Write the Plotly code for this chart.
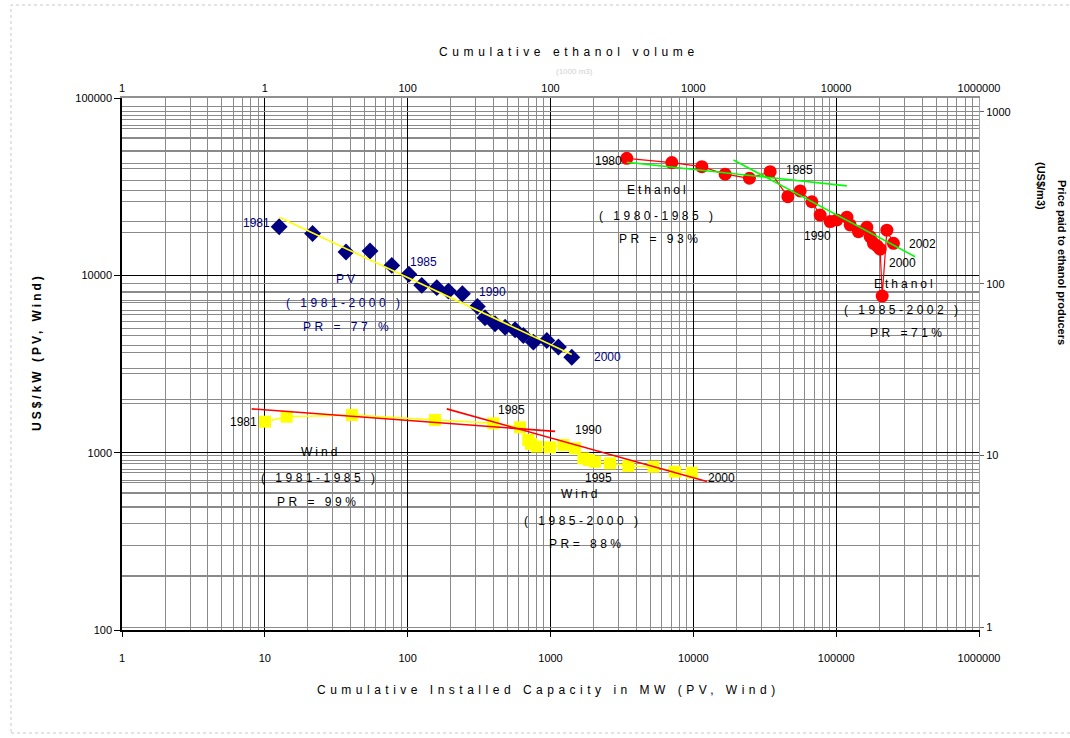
import math
import plotly.graph_objects as go

# ---------------- data ----------------
pv_years = list(range(1981, 2001))
pv_capacity_mw = [12.6, 21.6, 37, 54.5, 77.4, 102, 125.5, 160, 193, 241.6,
                  307.6, 348, 409, 481, 565, 646, 759, 942, 1136, 1409]
pv_price_kw = [18800, 17200, 13550, 13720, 11380, 10140, 8780, 8520, 8150, 7880,
               6680, 5770, 5330, 5100, 4930, 4580, 4200, 4290, 3940, 3450]
pv_fit_x = [12.6, 1409]
pv_fit_y = [21240, 3580]

wind_capacity_mw = [10.03, 14.22, 40.6, 155.4, 397.8, 611.8, 699.4, 730.3, 800.6, 992,
                    1229, 1485, 1698, 1860, 2049, 2610, 3506, 5245, 7440, 9743]
wind_price_kw = [1495, 1595, 1631, 1529, 1464, 1390, 1179, 1119, 1081, 1072,
                 1105, 1058, 929, 909, 889, 871, 841, 833, 781, 771]
wind_fit1_x = [8.09, 1077]
wind_fit1_y = [1766, 1319]
wind_fit2_x = [187.8, 12440]
wind_fit2_y = [1766, 688]

eth_years = list(range(1980, 2003))
eth_volume = [342, 707, 1147, 1670, 2472, 3451, 4590, 5597, 6757, 7727, 9080, 10110,
              11890, 12530, 14320, 16400, 17300, 18250, 19360, 20320, 21000, 22650, 25180]
eth_price_m3 = [537, 507, 480, 434, 411, 449, 321, 347, 300, 251, 230, 235,
                244, 220, 201, 213, 188, 172, 166, 159, 84.8, 205, 172]
eth_fit1_x = [342, 11890]
eth_fit1_y = [509, 371]
eth_fit2_x = [1910, 35730]
eth_fit2_y = [525, 143.7]

bottom_ticks = [1, 10, 100, 1000, 10000, 100000, 1000000]
bottom_ticktext = ["1", "10", "100", "1000", "10000", "100000", "1000000"]
top_ticks = [0.1, 1, 10, 100, 1000, 10000, 100000]
top_ticktext = ["1", "1", "100", "100", "1000", "10000", "1000000"]
left_ticks = [100, 1000, 10000, 100000]
left_ticktext = ["100", "1000", "10000", "100000"]
right_ticks = [1, 10, 100, 1000]
right_ticktext = ["1", "10", "100", "1000"]

# ---------------- figure ----------------
W, H = 1070, 738
ML, MR, MT, MB = 122, 91, 98, 108
PW, PH = W - ML - MR, H - MT - MB

FONT = "Liberation Sans, Arial, sans-serif"
NAVY = "#000080"
GRID = "#8a8a8a"


def minor_vals(lo_exp, hi_exp):
    return [m * 10 ** e for e in range(lo_exp, hi_exp) for m in range(2, 10)]


def P(px, py):
    return (px - ML) / PW, (H - MB - py) / PH


fig = go.Figure()

# PV
fig.add_trace(go.Scatter(x=pv_capacity_mw, y=pv_price_kw, mode="markers",
                         marker=dict(symbol="diamond", size=13, color=NAVY),
                         name="PV", showlegend=False))
fig.add_trace(go.Scatter(x=pv_fit_x, y=pv_fit_y, mode="lines",
                         line=dict(color="#ffff00", width=1.6), showlegend=False))
# Wind
fig.add_trace(go.Scatter(x=wind_capacity_mw, y=wind_price_kw, mode="lines+markers",
                         line=dict(color="#ffff00", width=1.5),
                         marker=dict(symbol="square", size=12, color="#ffff00"),
                         showlegend=False))
fig.add_trace(go.Scatter(x=wind_fit1_x, y=wind_fit1_y, mode="lines",
                         line=dict(color="#ff0000", width=1.6), showlegend=False))
fig.add_trace(go.Scatter(x=wind_fit2_x, y=wind_fit2_y, mode="lines",
                         line=dict(color="#ff0000", width=1.6), showlegend=False))
# Ethanol (top / right axes)
fig.add_trace(go.Scatter(x=eth_volume, y=eth_price_m3, mode="lines+markers",
                         xaxis="x2", yaxis="y2",
                         line=dict(color="#ff0000", width=1.2),
                         marker=dict(symbol="circle", size=13, color="#ff0000"),
                         showlegend=False))
fig.add_trace(go.Scatter(x=eth_fit1_x, y=eth_fit1_y, mode="lines", xaxis="x2", yaxis="y2",
                         line=dict(color="#00ff00", width=1.6), showlegend=False))
fig.add_trace(go.Scatter(x=eth_fit2_x, y=eth_fit2_y, mode="lines", xaxis="x2", yaxis="y2",
                         line=dict(color="#00ff00", width=1.6), showlegend=False))

ann = []


def pt_label(text, x, y, xshift=0, yshift=0, xanchor="center", color="black", xref="x", yref="y"):
    # log axes: annotation coordinates are given in log10 units
    ann.append(dict(text=text, x=math.log10(x), y=math.log10(y), xref=xref, yref=yref,
                    showarrow=False, xanchor=xanchor, yanchor="middle",
                    xshift=xshift, yshift=yshift,
                    font=dict(family=FONT, size=12, color=color)))


# year labels attached to data points
pt_label("1981", pv_capacity_mw[0], pv_price_kw[0], -7, 4, "right", NAVY)
pt_label("1985", pv_capacity_mw[5], pv_price_kw[5], -1, 12, "left", NAVY)
pt_label("1990", pv_capacity_mw[9], pv_price_kw[9], 15, 2, "left", NAVY)
pt_label("2000", pv_capacity_mw[19], pv_price_kw[19], 20, 0, "left", NAVY)

pt_label("1981", wind_capacity_mw[0], wind_price_kw[0], -6, 0, "right")
pt_label("1985", wind_capacity_mw[4], wind_price_kw[4], 18, 13)
pt_label("1990", wind_capacity_mw[9], wind_price_kw[9], 38, 17)
pt_label("1995", wind_capacity_mw[14], wind_price_kw[14], 3, -16)
pt_label("2000", wind_capacity_mw[19], wind_price_kw[19], 30, -5)

pt_label("1980", eth_volume[0], eth_price_m3[0], -3, -3, "right", xref="x2", yref="y2")
pt_label("1985", eth_volume[5], eth_price_m3[5], 14, 2, "left", xref="x2", yref="y2")
pt_label("1990", eth_volume[10], eth_price_m3[10], -13, -14, xref="x2", yref="y2")
pt_label("2002", eth_volume[22], eth_price_m3[22], 14, -1, "left", xref="x2", yref="y2")
pt_label("2000", eth_volume[20], eth_price_m3[20], 20, 33, xref="x2", yref="y2")


def sp(text, ls=2.5):
    return '<span style="letter-spacing:%spx">%s</span>' % (ls, text)


def paper_text(text, px, py, size=12, color="black", angle=0):
    x, y = P(px, py)
    ann.append(dict(text=text, x=x, y=y, xref="paper", yref="paper", showarrow=False,
                    xanchor="center", yanchor="middle", textangle=angle,
                    font=dict(family=FONT, size=size, color=color)))


def group(lines, centers, color="black"):
    for t, (px, py) in zip(lines, centers):
        paper_text(t, px, py, 12, color)


group([sp("PV", 3), sp("( 1981-2000 )", 3.5), sp("PR = 77 %", 3.5)],
      [(347, 279), (345, 303), (347, 327)], NAVY)
group([sp("Ethanol", 3), sp("( 1980-1985 )", 3.5), sp("PR = 93%", 3.5)],
      [(658, 190), (658, 216), (660, 239)])
group([sp("Ethanol", 3), sp("( 1985-2002 )", 3.5), sp("PR =71%", 3.5)],
      [(905, 284), (903, 310), (908, 333)])
group([sp("Wind", 3), sp("( 1981-1985 )", 3.5), sp("PR = 99%", 3.5)],
      [(320, 452), (320, 478), (318, 502)])
group([sp("Wind", 3), sp("( 1985-2000 )", 3.5), sp("PR= 88%", 3.5)],
      [(580, 494), (583, 521), (587, 544)])

# axis titles
paper_text(sp("Cumulative ethanol volume", 4.6), 569, 52)
paper_text("(1000 m3)", 574, 71, 8, "#d0d0d0")
paper_text(sp("Cumulative Installed Capacity in MW (PV, Wind)", 4.5), 548, 690)
paper_text(sp("<b>US$/kW (PV, Wind)</b>", 3), 37, 352, angle=-90)
paper_text("<b>Price paid to ethanol producers</b>", 1062, 262, size=11, angle=90)
paper_text("<b>(US$/m3)</b>", 1041, 186, size=11, angle=90)

# dotted outer chart border
x0, y0 = P(11, 733)
x1, y1 = P(1085, 5)
shapes = [dict(type="rect", xref="paper", yref="paper", x0=x0, y0=y0, x1=x1, y1=y1,
               line=dict(color="#c8c8c8", width=1, dash="dot"), layer="below")]

tickfont = dict(family=FONT, size=11, color="black")

fig.update_layout(
    width=W, height=H,
    margin=dict(l=ML, r=MR, t=MT, b=MB, pad=0),
    paper_bgcolor="white", plot_bgcolor="white",
    showlegend=False,
    annotations=ann, shapes=shapes,
    xaxis=dict(type="log", range=[0, 6], tickmode="array", tickvals=bottom_ticks,
               ticktext=bottom_ticktext, tickfont=tickfont, ticks="outside", ticklen=5,
               tickcolor="black", showline=True, linecolor="black", linewidth=1.5,
               showgrid=True, gridcolor="black", gridwidth=1.3, zeroline=False,
               ticklabelstandoff=12,
               minor=dict(tickmode="array", tickvals=minor_vals(0, 6), showgrid=True,
                          gridcolor=GRID, gridwidth=1, ticks="")),
    yaxis=dict(type="log", range=[2, 5], tickmode="array", tickvals=left_ticks,
               ticktext=left_ticktext, tickfont=tickfont, ticks="outside", ticklen=6,
               tickcolor="black", showline=True, linecolor="black", linewidth=1.5,
               showgrid=True, gridcolor="black", gridwidth=1.3, zeroline=False,
               minor=dict(tickmode="array", tickvals=minor_vals(2, 5), showgrid=True,
                          gridcolor=GRID, gridwidth=1, ticks="")),
    xaxis2=dict(type="log", range=[-1, 5], overlaying="x", side="top", anchor="y2",
                tickmode="array", tickvals=top_ticks, ticktext=top_ticktext,
                tickfont=tickfont, ticks="", showline=True, linecolor="#909090",
                linewidth=1.5, showgrid=False, zeroline=False),
    yaxis2=dict(type="log", range=[-0.015, 3.081], overlaying="y", side="right", anchor="x2",
                tickmode="array", tickvals=right_ticks, ticktext=right_ticktext,
                tickfont=tickfont, ticks="outside", ticklen=4, tickcolor="#606060",
                showline=True, linecolor="#a0a0a0", linewidth=1,
                showgrid=True, gridcolor=GRID, gridwidth=1, zeroline=False,
                minor=dict(tickmode="array", tickvals=minor_vals(0, 3), showgrid=True,
                           gridcolor=GRID, gridwidth=1, ticks="")),
)

fig.write_html("out.html", config={"displayModeBar": False},
               post_script="document.body.style.margin='0';document.body.style.overflow='hidden';")
